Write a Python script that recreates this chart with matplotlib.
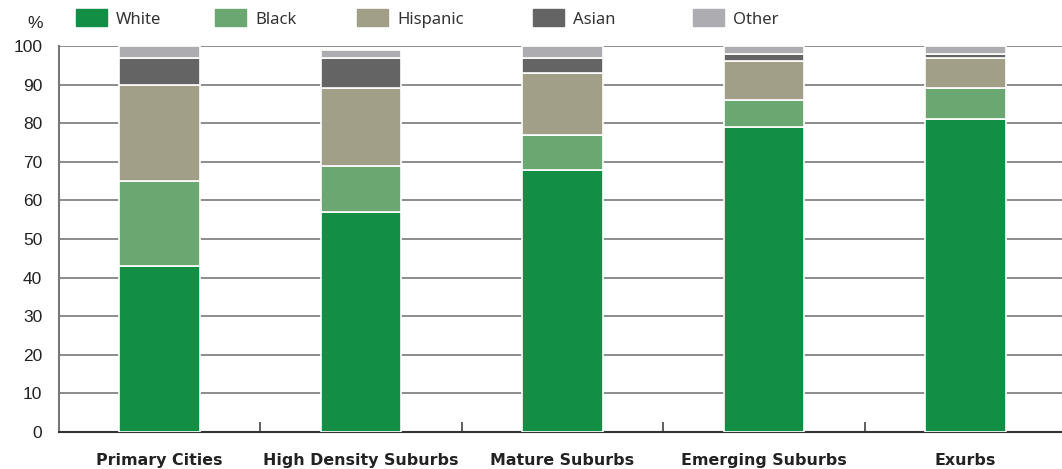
import numpy as np
import matplotlib
matplotlib.use("Agg")
import matplotlib.pyplot as plt
from matplotlib.patches import Rectangle

categories = ["Primary Cities", "High Density Suburbs", "Mature Suburbs", "Emerging Suburbs", "Exurbs"]
white = [43, 57, 68, 79, 81]
black = [22, 12, 9, 7, 8]
hispanic = [25, 20, 16, 10, 8]
asian = [7, 8, 4, 2, 1]
other = [3, 2, 3, 2, 2]

series = ["White", "Black", "Hispanic", "Asian", "Other"]
colours = ["#128f45", "#6aa771", "#a29f88", "#646464", "#adadb1"]
yticks = [0, 10, 20, 30, 40, 50, 60, 70, 80, 90, 100]

W, H = 1062, 469
fig = plt.figure(figsize=(W / 100, H / 100), dpi=100)
ax = fig.add_axes([59 / W, (H - 432) / H, (W - 59) / W, (432 - 46) / H])

x = np.arange(len(categories))
bottom = np.zeros(len(categories))
for vals, col in zip([white, black, hispanic, asian, other], colours):
    ax.bar(x, vals, width=0.4, bottom=bottom, color=col, edgecolor="white",
           linewidth=1.2, zorder=3)
    bottom += np.array(vals)

ax.set_xlim(-0.5, 4.48)
ax.set_ylim(0, 100)
ax.set_yticks(yticks)
ax.set_yticklabels([str(v) for v in yticks], fontsize=12.5, family="Liberation Sans", color="#222222")
ax.tick_params(axis="y", length=0, pad=12)
for v in yticks[1:]:
    ax.axhline(v, color="#6e6e6e", lw=1.1, zorder=1)

ax.set_xticks(x)
ax.set_xticklabels(categories, fontsize=11.4, fontweight="bold", family="DejaVu Sans", color="#222222")
ax.tick_params(axis="x", which="major", length=0, pad=15)
ax.set_xticks(x[:-1] + 0.5, minor=True)
ax.tick_params(axis="x", which="minor", direction="in", length=7, width=1.2, color="#444444")

for s in ["top", "right"]:
    ax.spines[s].set_visible(False)
ax.spines["left"].set_color("#777777")
ax.spines["left"].set_linewidth(1.5)
ax.spines["bottom"].set_color("#333333")
ax.spines["bottom"].set_linewidth(1.5)

fig.text(43 / W, 1 - 23 / H, "%", ha="right", va="center", fontsize=12.5,
         family="Liberation Sans", color="#222222")

# legend drawn by hand along the top
patch_x = [76, 215, 357, 533, 693]
for px, name, col in zip(patch_x, series, colours):
    fig.patches.append(Rectangle((px / W, 1 - 26 / H), 31 / W, 17 / H,
                                 transform=fig.transFigure, color=col))
    fig.text((px + 40) / W, 1 - 20 / H, name, ha="left", va="center",
             fontsize=12, family="Noto Sans", color="#333333")

fig.savefig("out.png", dpi=100)
